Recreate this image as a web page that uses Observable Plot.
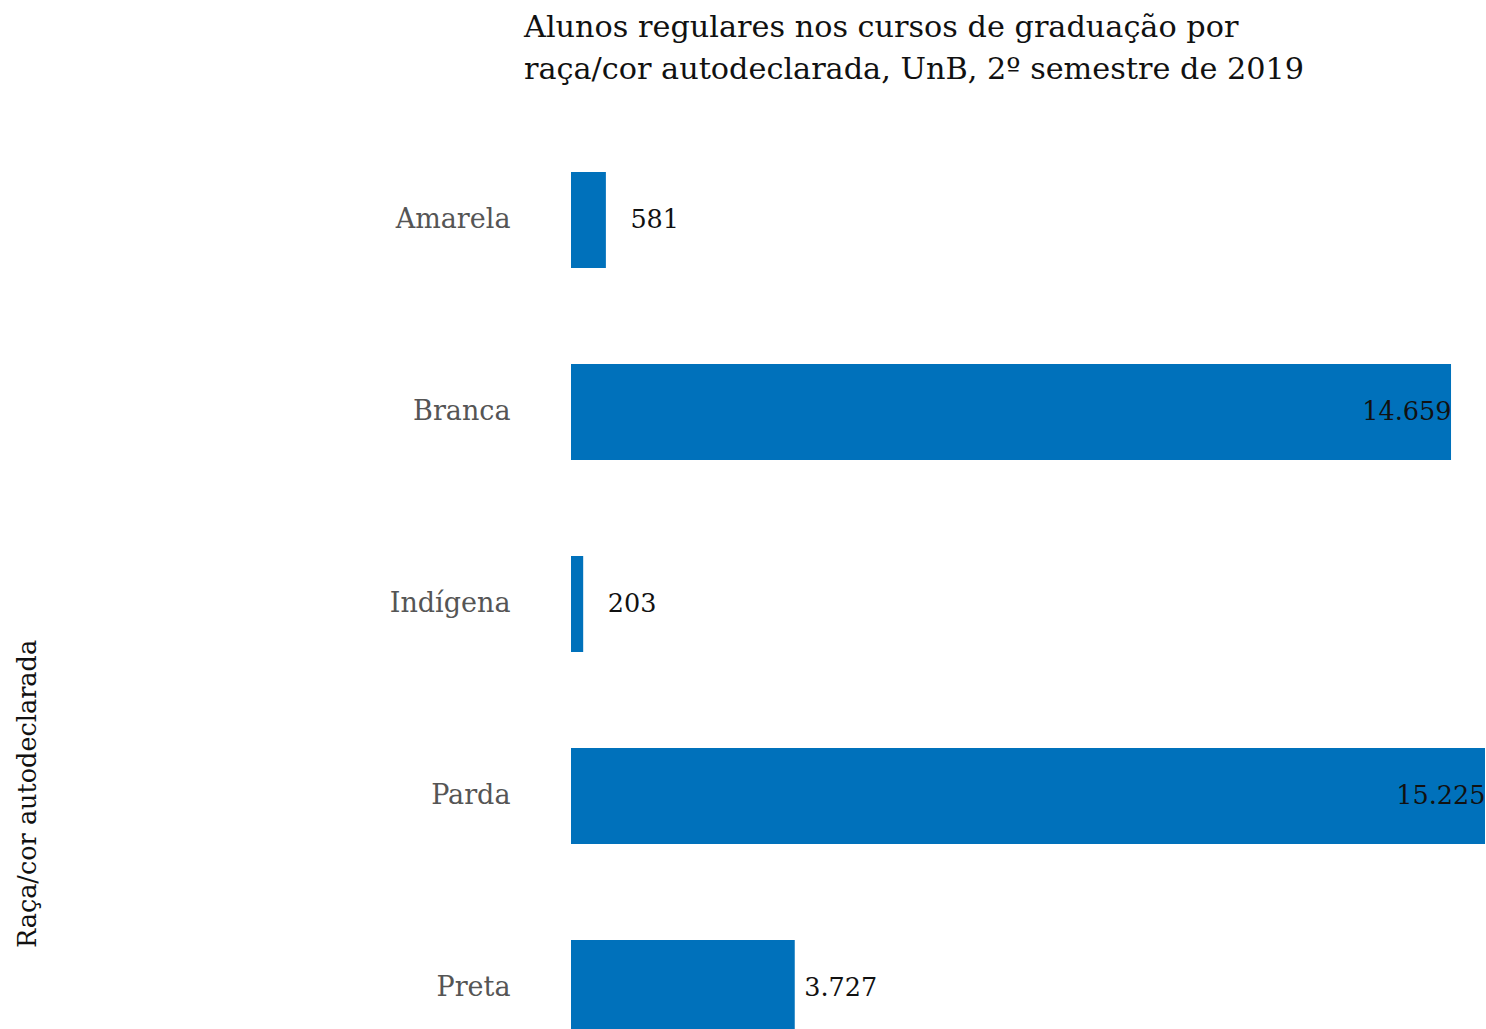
<!DOCTYPE html>
<html>
<head>
<meta charset="utf-8">
<script src="https://cdn.jsdelivr.net/npm/d3@7"></script>
<script src="https://cdn.jsdelivr.net/npm/@observablehq/plot@0.6"></script>
<style>
  html, body { margin: 0; padding: 0; background: #fff; overflow: hidden; }
  #wrap { position: relative; width: 1486px; height: 1029px; overflow: hidden; }
  #title { position: absolute; left: 524px; top: 6px; font-family: "DejaVu Serif", serif; font-size: 30.3px; line-height: 42px; color: #111; z-index: 2; }
  #ylab { position: absolute; left: 27px; top: 794px; transform: translate(-50%, -50%) rotate(-90deg); white-space: nowrap; font-family: "DejaVu Serif", serif; font-size: 25.5px; color: #111; z-index: 2; }
  #chart { position: absolute; left: 0; top: 0; }
</style>
</head>
<body>
<div id="wrap">
  <div id="title">Alunos regulares nos cursos de graduação por<br>raça/cor autodeclarada, UnB, 2º semestre de 2019</div>
  <div id="ylab">Raça/cor autodeclarada</div>
  <div id="chart"></div>
</div>
<script>
const categories = ["Amarela", "Branca", "Indígena", "Parda", "Preta"];
const values = [581, 14659, 203, 15225, 3727];

const data = categories.map((c, i) => ({raca: c, n: values[i]}));
const fmt = d3.formatLocale({decimal: ",", thousands: ".", grouping: [3], currency: ["R$", ""]}).format(",d");

const blue = "#0071BB";
const font = "DejaVu Serif";

const chart = Plot.plot({
  width: 1486,
  height: 1140,
  marginLeft: 571,
  marginRight: 1,
  marginTop: 76,
  marginBottom: 8,
  style: {fontFamily: font, fontSize: "25px", background: "transparent", overflow: "visible"},
  x: {domain: [0, d3.max(values)], axis: null},
  y: {domain: categories, padding: 0.5, label: null},
  marks: [
    Plot.barX(data, {x: "n", y: "raca", fill: blue}),
    Plot.axisY({tickSize: 0, tickPadding: 61, fill: "#555", fontSize: 27, dy: -1, label: null}),
    Plot.text(data.filter(d => d.n < 1000), {x: "n", y: "raca", text: d => fmt(d.n), textAnchor: "start", dx: 24, dy: -1, fill: "#111", fontSize: 25.5}),
    Plot.text(data.filter(d => d.n >= 1000 && d.n < 10000), {x: "n", y: "raca", text: d => fmt(d.n), textAnchor: "start", dx: 9, dy: -1, fill: "#111", fontSize: 25.5}),
    Plot.text(data.filter(d => d.n >= 10000), {x: "n", y: "raca", text: d => fmt(d.n), textAnchor: "end", dx: 0, dy: -1, fill: "#111", fontSize: 25.5})
  ]
});
document.getElementById("chart").appendChild(chart);
</script>
</body>
</html>
